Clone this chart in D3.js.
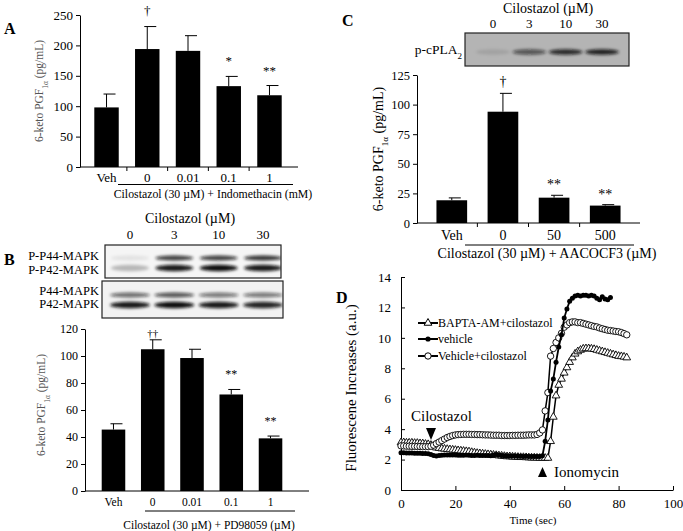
<!DOCTYPE html>
<html><head><meta charset="utf-8">
<script src="https://cdn.jsdelivr.net/npm/d3@7"></script>
<style>
body{margin:0;background:#fff}
text{font-family:"Liberation Serif","Times New Roman",serif}
</style></head><body>
<script>
// panel A
var catsA = ['Veh', '0', '0.01', '0.1', '1'];
var valsA = [98, 194, 191, 133, 118];
var errA = [22, 37, 25, 16, 16];
var markA = ['', '†', '', '*', '**'];
var ticksA = [0, 50, 100, 150, 200, 250];

// panel B
var catsB = ['Veh', '0', '0.01', '0.1', '1'];
var valsB = [45.5, 105, 98.5, 71.5, 39];
var errB = [4.3, 7, 6.5, 3.7, 1.7];
var markB = ['', '††', '', '**', '**'];
var ticksB = [0, 20, 40, 60, 80, 100, 120];

// panel C
var catsC = ['Veh', '0', '50', '500'];
var valsC = [19.2, 94, 21.4, 14.7];
var errC = [2, 15.5, 2, 0.8];
var markC = ['', '†', '**', '**'];
var ticksC = [0, 25, 50, 75, 100, 125];

// blots: lane labels and band darkness
var lanes = ['0', '3', '10', '30'];
var pP44 = [0.08, 0.8, 0.8, 0.85];
var pP42 = [0.25, 0.95, 1, 0.95];
var tP44 = [0.6, 0.7, 0.55, 0.55];
var tP42 = [0.95, 1, 0.95, 0.9];
var pcPLA2 = [0.1, 0.6, 0.85, 0.9];

// panel D
var timeD = [0,1,2,3,4,5,6,7,8,9,10,11,12,13,14,15,16,17,18,19,20,21,22,23,24,25,26,27,28,29,30,31,32,33,34,35,36,37,38,39,40,41,42,43,44,45,46,47,48,49,50,51,52,53,54,55,56,57,58,59,60,61,62,63,64,65,66,67,68,69,70,71,72,73,74,75,76,77,78,79,80,81,82,83];
var vehicle = [2.45,2.45,2.44,2.44,2.43,2.42,2.42,2.41,2.4,2.4,2.38,2.33,2.26,2.24,2.26,2.28,2.3,2.3,2.3,2.3,2.3,2.29,2.29,2.28,2.3,2.28,2.27,2.27,2.28,2.27,2.26,2.26,2.27,2.25,2.3,2.33,2.3,2.26,2.25,2.25,2.24,2.24,2.23,2.22,2.22,2.21,2.22,2.2,2.2,2.2,2.21,2.2,2.25,3.2,4.6,6.5,7.3,8.4,9.4,10.2,11.3,11.9,12.4,12.6,12.75,12.8,12.75,12.8,12.8,12.75,12.8,12.75,12.6,12.5,12.7,12.55,12.5,12.65];
var vehCilo = [2.9,2.9,2.88,2.88,2.87,2.87,2.86,2.86,2.85,2.85,2.85,2.88,2.95,3.05,3.15,3.25,3.35,3.45,3.52,3.58,3.62,3.64,3.65,3.66,3.66,3.66,3.65,3.65,3.64,3.64,3.63,3.62,3.62,3.61,3.6,3.6,3.6,3.58,3.58,3.58,3.58,3.59,3.59,3.6,3.6,3.6,3.61,3.62,3.62,3.62,3.65,3.75,3.95,5.2,6.4,8.8,9.3,9.7,10.0,10.3,10.7,10.85,11.0,11.05,11.05,11.0,11.0,10.95,10.9,10.85,10.8,10.75,10.72,10.65,10.6,10.55,10.5,10.48,10.45,10.42,10.4,10.35,10.28,10.2];
var bapta = [3.12,3.12,3.1,3.1,3.1,3.08,3.08,3.06,3.05,3.02,3.0,2.95,2.85,2.78,2.75,2.72,2.7,2.68,2.66,2.64,2.62,2.6,2.58,2.56,2.54,2.52,2.48,2.45,2.42,2.4,2.38,2.36,2.34,2.32,2.3,2.28,2.26,2.24,2.22,2.2,2.2,2.18,2.17,2.16,2.15,2.15,2.14,2.13,2.12,2.12,2.11,2.1,2.1,2.1,2.1,3.2,4.8,6.2,6.9,7.3,7.7,8.05,8.4,8.7,8.95,9.1,9.2,9.28,9.3,9.3,9.28,9.25,9.2,9.15,9.1,9.05,9.0,8.95,8.9,8.85,8.8,8.78,8.75,8.7];
var seriesNames = ['BAPTA-AM+cilostazol', 'vehicle', 'Vehicle+cilostazol'];
var ticksDx = [0, 20, 40, 60, 80, 100];
var ticksDy = [0, 2, 4, 6, 8, 10, 12, 14];

var svg = d3.select('body').append('svg').attr('width', 683).attr('height', 531)
  .attr('font-family', '"Liberation Serif","Times New Roman",serif');

var defs = svg.append('defs');
defs.append('filter').attr('id', 'blur').attr('x', '-20%').attr('y', '-50%').attr('width', '140%').attr('height', '200%')
  .append('feGaussianBlur').attr('stdDeviation', 1.6);

function label(x, y, txt, size, opts) {
  opts = opts || {};
  return svg.append('text').attr('x', x).attr('y', y).attr('font-size', size)
    .attr('text-anchor', opts.anchor || 'start')
    .attr('font-weight', opts.bold ? 'bold' : null)
    .attr('fill', opts.fill || '#000')
    .text(txt);
}

function yLabel(x, y, size, fill) {
  var t = svg.append('text').attr('transform', 'translate(' + x + ',' + y + ') rotate(-90)')
    .attr('text-anchor', 'middle').attr('font-size', size).attr('fill', fill);
  t.append('tspan').text('6-keto PGF');
  t.append('tspan').attr('baseline-shift', 'sub').attr('font-size', size * 0.65).text('1α');
  t.append('tspan').text(' (pg/mL)');
}

function styleAxis(g, size) {
  g.attr('font-family', null).attr('font-size', null);
  g.selectAll('text').attr('font-size', size).attr('fill', '#000');
  g.selectAll('line,path').attr('stroke', '#000');
}

function barPanel(o) {
  var x = d3.scaleBand().domain(o.cats).range(o.xr).padding(0.4);
  var y = d3.scaleLinear().domain([0, o.ymax]).range(o.yr);
  var g = svg.append('g');
  var bw = x.bandwidth();

  // error bars
  g.selectAll('line.err').data(o.vals).enter().append('line')
    .attr('x1', function(d, i) { return x(o.cats[i]) + bw / 2; })
    .attr('x2', function(d, i) { return x(o.cats[i]) + bw / 2; })
    .attr('y1', function(d) { return y(d); })
    .attr('y2', function(d, i) { return y(d + o.errs[i]); })
    .attr('stroke', '#000').attr('stroke-width', 1);
  g.selectAll('line.cap').data(o.vals).enter().append('line')
    .attr('x1', function(d, i) { return x(o.cats[i]) + bw / 2 - 3; })
    .attr('x2', function(d, i) { return x(o.cats[i]) + bw / 2 + 9; })
    .attr('y1', function(d, i) { return y(d + o.errs[i]); })
    .attr('y2', function(d, i) { return y(d + o.errs[i]); })
    .attr('stroke', '#000').attr('stroke-width', 1);

  g.selectAll('rect').data(o.vals).enter().append('rect')
    .attr('x', function(d, i) { return x(o.cats[i]); })
    .attr('y', function(d) { return y(d); })
    .attr('width', bw)
    .attr('height', function(d) { return y(0) - y(d); })
    .attr('fill', '#000');

  // significance marks
  g.selectAll('text.mark').data(o.marks).enter().append('text')
    .attr('x', function(d, i) { return x(o.cats[i]) + bw / 2; })
    .attr('y', function(d, i) { return y(o.vals[i] + o.errs[i]) + (d.indexOf('†') >= 0 ? o.dagOff : o.starOff); })
    .attr('text-anchor', 'middle').attr('fill', '#000')
    .attr('font-size', function(d) { return d.indexOf('†') >= 0 ? o.dagSize : o.starSize; })
    .text(function(d) { return d; });

  var ya = g.append('g').attr('transform', 'translate(' + o.axisX + ',0)')
    .call(d3.axisLeft(y).tickValues(o.ticks).tickSizeInner(4).tickSizeOuter(0).tickPadding(3));
  styleAxis(ya, o.tickSize);

  g.append('line').attr('x1', o.axisX).attr('x2', o.xEnd).attr('y1', y(0)).attr('y2', y(0)).attr('stroke', '#000');
  if (o.sepTicks) {
    o.cats.slice(0, -1).forEach(function(c) {
      var bx = x(c) + bw + (x.step() - bw) / 2;
      g.append('line').attr('x1', bx).attr('x2', bx).attr('y1', y(0)).attr('y2', y(0) + 4).attr('stroke', '#000');
    });
  }
  g.selectAll('text.xl').data(o.cats).enter().append('text')
    .attr('x', function(d) { return x(d) + bw / 2; })
    .attr('y', o.xlY).attr('text-anchor', 'middle').attr('font-size', o.xlSize)
    .text(function(d) { return d; });
  g.append('line').attr('x1', o.ul[0]).attr('x2', o.ul[1]).attr('y1', o.ul[2]).attr('y2', o.ul[2])
    .attr('stroke', '#000').attr('stroke-width', 1);
}

function blot(box, lanePos, rows, bg) {
  var g = svg.append('g');
  var cid = 'c' + Math.round(box[0]) + '_' + Math.round(box[1]);
  defs.append('clipPath').attr('id', cid).append('rect')
    .attr('x', box[0]).attr('y', box[1]).attr('width', box[2]).attr('height', box[3]);
  g.append('rect').attr('x', box[0]).attr('y', box[1]).attr('width', box[2]).attr('height', box[3]).attr('fill', bg);
  var inner = g.append('g').attr('clip-path', 'url(#' + cid + ')').append('g').attr('filter', 'url(#blur)');
  rows.forEach(function(r) {
    inner.selectAll(null).data(r.vals).enter().append('ellipse')
      .attr('cx', function(d, i) { return lanePos(lanes[i]); })
      .attr('cy', r.y)
      .attr('rx', r.rx).attr('ry', r.ry)
      .attr('fill', '#111')
      .attr('opacity', function(d) { return d; });
  });
  g.append('rect').attr('x', box[0]).attr('y', box[1]).attr('width', box[2]).attr('height', box[3])
    .attr('fill', 'none').attr('stroke', '#222').attr('stroke-width', 1.2);
}

// ---------- A ----------
label(4, 34, 'A', 16, {bold: true});
barPanel({cats: catsA, vals: valsA, errs: errA, marks: markA, ticks: ticksA, ymax: 250,
  xr: [78, 298], yr: [167, 15], axisX: 80, xEnd: 298, tickSize: 13, sepTicks: true,
  xlY: 182, xlSize: 13, ul: [118, 293, 184.5],
  dagOff: -12, starOff: -11, dagSize: 13, starSize: 13});
yLabel(43, 91, 11.5, '#555');
label(213, 198, 'Cilostazol  (30 µM)  + Indomethacin  (mM)', 11.8, {anchor: 'middle'});

// ---------- B ----------
label(4, 265, 'B', 16, {bold: true});
var laneB = d3.scalePoint().domain(lanes).range([130, 263]);
label(190, 223, 'Cilostazol (µM)', 14, {anchor: 'middle'});
lanes.forEach(function(l) { label(laneB(l), 239, l, 13, {anchor: 'middle'}); });
blot([105, 245, 176, 33], laneB, [
  {y: 258, rx: 19, ry: 2.6, vals: pP44},
  {y: 268, rx: 19, ry: 3.2, vals: pP42}], '#f5f5f5');
blot([102, 281, 181, 37], laneB, [
  {y: 295, rx: 20, ry: 2.6, vals: tP44},
  {y: 305, rx: 20, ry: 3.3, vals: tP42}], '#f2f2f2');
label(99, 260, 'P-P44-MAPK', 12.5, {anchor: 'end'});
label(99, 274, 'P-P42-MAPK', 12.5, {anchor: 'end'});
label(99, 295, 'P44-MAPK', 12.5, {anchor: 'end'});
label(99, 308, 'P42-MAPK', 12.5, {anchor: 'end'});

barPanel({cats: catsB, vals: valsB, errs: errB, marks: markB, ticks: ticksB, ymax: 120,
  xr: [86, 298], yr: [491, 329], axisX: 85, xEnd: 309, tickSize: 12, sepTicks: false,
  xlY: 506, xlSize: 11.5, ul: [145, 295, 511],
  dagOff: -3, starOff: -11, dagSize: 11, starSize: 12});
yLabel(45, 405, 11.5, '#555');
label(209, 529, 'Cilostazol  (30 µM)  + PD98059 (µM)', 11.5, {anchor: 'middle'});

// ---------- C ----------
label(342, 26, 'C', 16, {bold: true});
var laneC = d3.scalePoint().domain(lanes).range([493, 602]);
label(548, 13, 'Cilostazol (µM)', 14, {anchor: 'middle'});
lanes.forEach(function(l) { label(laneC(l), 28, l, 13, {anchor: 'middle'}); });
blot([465, 33, 164, 33], laneC, [
  {y: 52, rx: 17, ry: 2.8, vals: pcPLA2}], '#b4b4b4');
var pc = label(462, 54, 'p-cPLA', 13.5, {anchor: 'end'});
pc.append('tspan').attr('baseline-shift', 'sub').attr('font-size', 9).text('2');

barPanel({cats: catsC, vals: valsC, errs: errC, marks: markC, ticks: ticksC, ymax: 125,
  xr: [416, 641], yr: [223, 75], axisX: 417, xEnd: 640, tickSize: 12.5, sepTicks: true,
  xlY: 240, xlSize: 14, ul: [465, 634, 245],
  dagOff: -7, starOff: -6, dagSize: 14, starSize: 14});
yLabel(383, 149, 14, '#000');
label(547, 258, 'Cilostazol (30  µM) + AACOCF3 (µM)', 14, {anchor: 'middle'});

// ---------- D ----------
label(336, 303, 'D', 16, {bold: true});
var xD = d3.scaleLinear().domain([0, 100]).range([401, 673]);
var yD = d3.scaleLinear().domain([0, 14]).range([490, 277]);

var gxa = svg.append('g').attr('transform', 'translate(0,' + yD(0) + ')')
  .call(d3.axisBottom(xD).tickValues(ticksDx).tickSizeInner(-4).tickSizeOuter(0).tickPadding(9));
styleAxis(gxa, 13);
var gya = svg.append('g').attr('transform', 'translate(' + xD(0) + ',0)')
  .call(d3.axisLeft(yD).tickValues(ticksDy).tickSizeInner(-4).tickSizeOuter(0).tickPadding(10));
styleAxis(gya, 13);

var lineGen = function(vals) {
  return d3.line().x(function(d, i) { return xD(timeD[i]); }).y(function(d) { return yD(d); })(vals);
};
var tri = d3.symbol().type(d3.symbolTriangle).size(26);

svg.append('path').attr('d', lineGen(bapta)).attr('fill', 'none').attr('stroke', '#000').attr('stroke-width', 1.5);
svg.selectAll('path.tri').data(bapta).enter().append('path')
  .attr('d', tri).attr('transform', function(d, i) { return 'translate(' + xD(timeD[i]) + ',' + yD(d) + ')'; })
  .attr('fill', '#fff').attr('stroke', '#000').attr('stroke-width', 0.9);

svg.append('path').attr('d', lineGen(vehCilo)).attr('fill', 'none').attr('stroke', '#000').attr('stroke-width', 1.5);
svg.selectAll('circle.oc').data(vehCilo).enter().append('circle')
  .attr('cx', function(d, i) { return xD(timeD[i]); }).attr('cy', function(d) { return yD(d); })
  .attr('r', 3.2).attr('fill', '#fff').attr('stroke', '#000').attr('stroke-width', 0.9);

svg.append('path').attr('d', lineGen(vehicle)).attr('fill', 'none').attr('stroke', '#000').attr('stroke-width', 1.8);
svg.selectAll('circle.fc').data(vehicle).enter().append('circle')
  .attr('cx', function(d, i) { return xD(timeD[i]); }).attr('cy', function(d) { return yD(d); })
  .attr('r', 2.5).attr('fill', '#000');

// legend
var legY = [323, 339, 356];
seriesNames.forEach(function(n, i) {
  svg.append('line').attr('x1', 418).attr('x2', 438).attr('y1', legY[i]).attr('y2', legY[i])
    .attr('stroke', '#000').attr('stroke-width', 2);
  if (i === 0) {
    svg.append('path').attr('d', tri).attr('transform', 'translate(428,' + legY[i] + ')')
      .attr('fill', '#fff').attr('stroke', '#000');
  } else if (i === 1) {
    svg.append('circle').attr('cx', 428).attr('cy', legY[i]).attr('r', 2.6).attr('fill', '#000');
  } else {
    svg.append('circle').attr('cx', 428).attr('cy', legY[i]).attr('r', 3.2).attr('fill', '#fff').attr('stroke', '#000');
  }
  label(438, legY[i] + 4, n, 12);
});

// annotations
label(411, 421, 'Cilostazol', 15);
svg.append('path').attr('d', 'M426,428 L436,428 L431,440 Z').attr('fill', '#000');
svg.append('path').attr('d', 'M538,477 L547,477 L542.5,467 Z').attr('fill', '#000');
label(554, 477, 'Ionomycin', 15);

label(533, 524, 'Time  (sec)', 11, {anchor: 'middle'});
svg.append('text').attr('transform', 'translate(356,388) rotate(-90)').attr('text-anchor', 'middle')
  .attr('font-size', 15).text('Fluorescene Increases (a.u.)');
</script>
</body></html>
